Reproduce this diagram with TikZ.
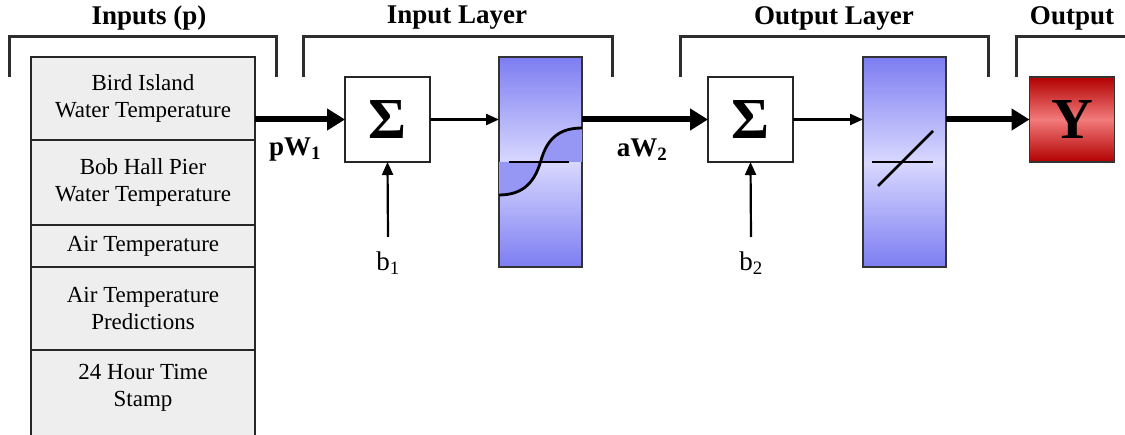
\documentclass[tikz,border=0pt]{standalone}
\usepackage{fontspec}
\setmainfont{Liberation Serif}
\usepackage{tikz}
\usetikzlibrary{arrows.meta,positioning}

\definecolor{celgray}{RGB}{238,238,238}
\definecolor{actdark}{RGB}{125,125,242}
\definecolor{actlight}{RGB}{216,216,255}
\definecolor{actfill}{RGB}{150,150,245}
\definecolor{ydark}{RGB}{178,0,0}
\definecolor{ylight}{RGB}{242,122,122}
\definecolor{brk}{RGB}{45,45,45}

\begin{document}
\begin{tikzpicture}[x=1pt,y=-1pt,
  cell/.style={draw=black!85,line width=1.6pt,fill=celgray,minimum width=224pt,
    inner sep=0pt,outer sep=0pt,anchor=north,align=center,
    font=\fontsize{23}{27}\selectfont},
  celltext/.style={align=center,font=\fontsize{23}{27}\selectfont},
  sumbox/.style={draw=black!85,line width=1.2pt,fill=white,minimum size=85pt,
    inner sep=0pt,outer sep=0pt,font=\fontsize{58}{60}\selectfont\bfseries},
  actbox/.style={draw=black!80,line width=1.2pt,minimum width=83pt,minimum height=210pt,
    inner sep=0pt,outer sep=0pt,top color=actdark,bottom color=actdark,middle color=actlight},
  ybox/.style={draw=black!80,line width=1.2pt,minimum size=85pt,inner sep=0pt,outer sep=0pt,
    top color=ydark,bottom color=ydark,middle color=ylight,
    font=\fontsize{58}{60}\selectfont\bfseries},
  title/.style={font=\fontsize{27}{30}\selectfont\bfseries},
  wlabel/.style={font=\fontsize{27}{30}\selectfont\bfseries},
  blabel/.style={font=\fontsize{27}{30}\selectfont,inner sep=1pt},
  bracket/.style={draw=brk,line width=3pt},
  bigarrow/.style={line width=6pt,-{Triangle[length=18pt,width=21pt]}},
  smallarrow/.style={line width=2.2pt,-{Triangle[length=13pt,width=11pt]}}]
  \clip (0,0) rectangle (1125,435);
  \useasboundingbox (0,0) rectangle (1125,435);

  % input stack
  \node[cell,minimum height=83pt] (in1) at (143,57) {Bird Island\\Water Temperature};
  \node[cell,minimum height=85pt] (in2) at (143,140) {Bob Hall Pier\\Water Temperature};
  \node[cell,minimum height=42pt] (in3) at (143,225) {Air Temperature};
  \node[cell,minimum height=83pt] (in4) at (143,267) {Air Temperature\\Predictions};
  \node[cell,minimum height=95pt] (in5) at (143,350) {};
  \node[celltext] (st5) at (143,388) {24 Hour Time\\Stamp};

  % layers
  \node[sumbox] (sum1) at (387.5,119.5) {Σ};
  \node[actbox] (act1) at (540.5,162) {};
  \node[sumbox] (sum2) at (750.5,119.5) {Σ};
  \node[actbox] (act2) at (904.5,162) {};
  \node[ybox] (yout) at (1072,119.5) {Y};

  % transfer functions
  \fill[actfill] (act1.west) -- (act1.west |- 0,195) .. controls (525,195) and (535,180) .. (540.5,162) -- cycle;
  \fill[actfill] (540.5,162) .. controls (546,142) and (556,128) .. (act1.east |- 0,128) -- (act1.east) -- cycle;
  \draw[line width=1.1pt] (509,162) -- (569,162);
  \draw[line width=2.8pt] (act1.west |- 0,195) .. controls (525,195) and (535,180) .. (540.5,162)
    .. controls (546,142) and (556,128) .. (act1.east |- 0,128);
  \draw[line width=1.1pt] (872,162) -- (933,162);
  \draw[line width=2.8pt] (878,186) -- (933,131);

  % connectors
  \draw[bigarrow] (in1.east |- sum1) -- (sum1.west);
  \draw[smallarrow] (sum1.east) -- (act1.west |- sum1);
  \draw[bigarrow] (act1.east |- sum2) -- (sum2.west);
  \draw[smallarrow] (sum2.east) -- (act2.west |- sum2);
  \draw[bigarrow] (act2.east |- yout) -- (yout.west);

  \node[wlabel] (pw) at (295,150) {pW\textsubscript{1}};
  \node[wlabel] (aw) at (642,150) {aW\textsubscript{2}};

  \node[blabel] (b1) at (388,263) {b\textsubscript{1}};
  \node[blabel] (b2) at (751,263) {b\textsubscript{2}};
  \draw[smallarrow] (b1.north |- 0,237) -- (sum1.south);
  \draw[smallarrow] (b2.north |- 0,237) -- (sum2.south);

  % brackets and titles
  \draw[bracket] (9,77) |- (276,37) -- (276,77);
  \draw[bracket] (303,77) |- (612,37) -- (612,77);
  \draw[bracket] (680,77) |- (988,37) -- (988,77);
  \draw[bracket] (1016,77) |- (1130,37);
  \node[title] (tin) at (149,18) {Inputs (p)};
  \node[title] (tlay1) at (457,18) {Input Layer};
  \node[title] (tlay2) at (834,18) {Output Layer};
  \node[title] (tout) at (1072,18) {Output};
\end{tikzpicture}
\end{document}
